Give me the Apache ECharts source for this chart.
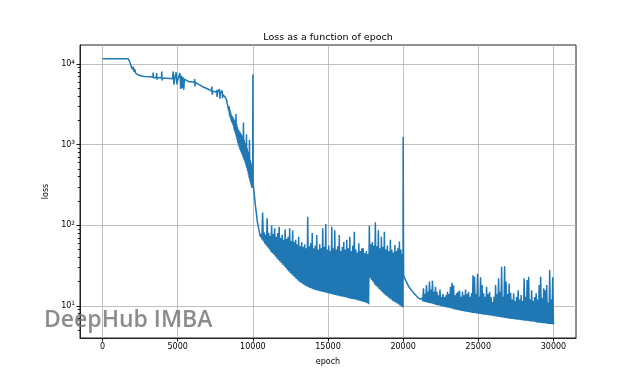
<!DOCTYPE html>
<html><head><meta charset="utf-8">
<script src="https://cdn.jsdelivr.net/npm/echarts@6/dist/echarts.min.js"></script>
<style>html,body{margin:0;padding:0;background:#fff}#c{width:640px;height:379px}</style>
</head><body><div id="c"></div>
<script>
// ---- data ----
const xTicks = [0, 5000, 10000, 15000, 20000, 25000, 30000];
const yTickExp = [1, 2, 3, 4];

// early phase (epoch / loss pairs)
const earlyEpoch = [0,1700,1800,1900,1950,2000,2050,2100,2150,2200,2250,2300,2400,2600,2800,3100,3350,3370,3390,3580,3600,3620,3640,3920,3940,3960,3980,4250,4650,4700,4750,4800,4900,4950,5000,5100,5150,5200,5250,5300,5350,5400,5450,5500,5700,5950,6100,6130,6150,6170,6400,6700,7000,7250,7270,7300,7330,7450,7580,7600,7620,7650,7750,7780,7800,7830,7900,7950,7980,8000,8100,8150,8200,8250,8300,8350];
const earlyLoss = [11600,11600,10800,9400,9900,8600,9200,8000,8600,7700,8000,7500,7300,7100,7000,6950,6900,7860,6700,6850,7730,6380,6800,6750,8090,6260,6700,6650,6550,8090,5530,6500,7900,5600,6400,6300,7730,4900,7200,5000,6900,4800,6500,6200,6080,6000,5950,6510,5270,5900,5600,5180,4900,4650,5270,4160,4600,4550,4500,4800,3900,4450,4400,4900,3700,4300,4250,4700,3800,4200,4100,3900,3780,3600,3200,2900];

// steep noisy descent: samples every 25 epochs from 8400, alternating low / high
const descStart = 8400, descStep = 25;
const descLows = [2600,2300,2150,2000,1900,1800,1700,1550,1450,1350,1250,1150,1050,980,920,860,820,780,740,700,660,630,590,550,510,470,430,390,360,330,305,290];
const descHighs = [3000,2700,2500,2350,2250,2200,2100,2000,1950,2400,1800,1650,1550,1500,1450,1400,1350,1300,1250,1880,1150,1050,1000,1350,900,820,760,1150,650,600,560,500];

// spike at 10000 and the drop after it
const dropEpoch = [9990,10000,10020,10150,10300,10450];
const dropLoss = [290,7400,330,190,110,80];

// middle phase: samples every 50 epochs from 10500, alternating low / high
const midStart = 10500, midStep = 50;
const midLows = [72,67,63,59,56,53,50,47,45,43,41,39,37,35.5,34,32.5,31,29.5,28,26.8,25.5,24.5,23.5,22.5,21.5,20.7,20,19.4,18.8,18.3,17.8,17.4,17,16.7,16.4,16.1,15.9,15.7,15.5,15.3,15.2,15.0,14.9,14.7,14.6,14.4,14.3,14.1,14,13.8,13.7,13.5,13.4,13.2,13.1,13.0,12.9,12.7,12.6,12.4,12.3,12.2,12.1,12.0,11.9,11.7,11.6,11.4,11.3,11.2,11,10.8,10.5,22,21,19.8,18.5,17.7,17,16.2,15.5,14.9,14.3,13.8,13.3,12.8,12.4,12,11.6,11.3,11,10.7,10.4,10.1,9.8];
const midHighs = [78,144,82,76,122,80,74,99,78,92,72,80,96,70,76,66,89,68,72,92,64,87,62,66,58,72,55,62,54,58,52,128,55,60,80,52,56,76,50,58,52,92,54,104,50,56,48,96,52,87,50,55,76,48,54,62,50,66,52,72,48,56,83,50,46,60,48,52,52,45,48,44,99,58,62,56,109,55,87,52,72,54,83,50,56,48,66,50,46,57,48,52,63,50,44];

// spike at 20000 and the smooth decay after it
const transEpoch = [19990,20000,20030,20150,20400,20700,20900,21100];
const transLoss = [9.6,1240,24,21,17,14.5,13.2,12.2];

// tail phase: samples every 50 epochs from 21200, alternating low / high
const tailStart = 21200, tailStep = 50;
const tailLows = [11.8,11.5,11.3,11.15,11.0,10.9,10.8,10.7,10.6,10.45,10.3,10.2,10.1,10.0,9.9,9.8,9.7,9.6,9.5,9.4,9.3,9.2,9.1,9.0,8.9,8.82,8.75,8.68,8.6,8.55,8.5,8.42,8.35,8.28,8.2,8.15,8.1,8.05,8.0,7.95,7.9,7.85,7.8,7.75,7.7,7.65,7.6,7.55,7.5,7.45,7.4,7.35,7.3,7.25,7.2,7.15,7.1,7.05,7.0,6.95,6.9,6.87,6.85,6.8,6.75,6.72,6.7,6.65,6.6,6.57,6.55,6.5,6.45,6.42,6.4,6.35,6.3,6.25,6.2,6.17,6.15,6.12,6.1,6.05,6.0,5.97,5.95,5.92,5.9];
const tailHighs = [12.5,16.5,14,18.1,15,20,16,20.5,15,17.3,15,13.5,16,13,14,12.9,13.5,15,14,17.3,19.4,18,13.5,14.3,15,15.5,13,15,13.5,16,14,15,13,14.3,24,23,14,25,13,22.6,18.1,14.3,13,17.3,14,15,12.9,11.2,13,18.1,14,22,15,30.6,13,31,20,14,19,14.6,12,14.3,11.5,12.9,15.6,12,13.6,11.5,22,13,21,23,12,15.6,11.5,12.9,14.3,12,18.1,23,12.5,16.5,15.6,18.1,11,27.9,12,22.6];

// ---- build the series ----
const pts = [];
function addPairs(ep, ls) { ep.forEach((e, i) => pts.push([e, ls[i]])); }
function addAlt(start, step, lows, highs) {
  const n = lows.length + highs.length;
  for (let j = 0; j < n; j++) {
    const v = (j % 2 === 0) ? lows[j / 2] : highs[(j - 1) / 2];
    pts.push([start + step * j, v]);
  }
}
addPairs(earlyEpoch, earlyLoss);
addAlt(descStart, descStep, descLows, descHighs);
addPairs(dropEpoch, dropLoss);
addAlt(midStart, midStep, midLows, midHighs);
addPairs(transEpoch, transLoss);
addAlt(tailStart, tailStep, tailLows, tailHighs);
const data = pts.map(p => [p[0], Math.log10(p[1])]);

const minorTicks = [];
for (let n = 0; n <= 4; n++) for (let k = 2; k <= 9; k++) {
  const v = Math.log10(k * Math.pow(10, n));
  if (v > 0.61 && v < 4.23) minorTicks.push(v);
}
const FONT = 'DejaVu Sans';
const YMIN = 0.602, YMAX = 4.236;

const chart = echarts.init(document.getElementById('c'), null, {renderer: 'canvas'});
chart.setOption({
  animation: false,
  backgroundColor: '#ffffff',
  textStyle: {fontFamily: FONT},
  title: {
    text: 'Loss as a function of epoch',
    left: 323, top: 28, textAlign: 'center',
    textStyle: {fontFamily: FONT, fontSize: 9.5, fontWeight: 'normal', color: '#000'}
  },
  grid: {left: 80, top: 45, width: 496, height: 293, show: true, borderColor: '#222', borderWidth: 1, containLabel: false},
  xAxis: {
    type: 'value', min: -1500, max: 31500,
    name: 'epoch', nameLocation: 'middle', nameGap: 20,
    nameTextStyle: {fontFamily: FONT, fontSize: 8, color: '#000'},
    axisLine: {show: true, onZero: false, lineStyle: {color: '#222', width: 1}},
    axisTick: {show: true, length: 3.5, customValues: xTicks, lineStyle: {color: '#000', width: 0.9}},
    axisLabel: {customValues: xTicks, margin: 5, fontFamily: FONT, fontSize: 8, color: '#000',
      formatter: v => String(v)},
    splitLine: {show: true, lineStyle: {color: '#b0b0b0', width: 0.8}}
  },
  yAxis: [{
    type: 'value', min: YMIN, max: YMAX,
    name: 'loss', nameLocation: 'middle', nameGap: 20,
    nameTextStyle: {fontFamily: FONT, fontSize: 8, color: '#000'},
    axisLine: {show: true, onZero: false, lineStyle: {color: '#222', width: 1}},
    axisTick: {show: true, length: 3.5, customValues: yTickExp, lineStyle: {color: '#000', width: 0.9}},
    axisLabel: {customValues: yTickExp, margin: 5, fontFamily: FONT, color: '#000',
      formatter: v => '{b|10}{s|' + Math.round(v) + '}',
      rich: {
        b: {fontFamily: FONT, fontSize: 8, lineHeight: 10, color: '#000'},
        s: {fontFamily: FONT, fontSize: 5.8, lineHeight: 10, verticalAlign: 'top', color: '#000'}
      }},
    splitLine: {show: true, lineStyle: {color: '#b0b0b0', width: 0.8}}
  }, {
    type: 'value', min: YMIN, max: YMAX, position: 'left', offset: 0,
    axisLine: {show: false, onZero: false},
    axisTick: {show: true, length: 2.2, customValues: minorTicks, lineStyle: {color: '#000', width: 0.9}},
    axisLabel: {show: false},
    splitLine: {show: false}
  }],
  series: [{
    type: 'line', data: data, xAxisIndex: 0, yAxisIndex: 0,
    showSymbol: false, symbol: 'none',
    lineStyle: {color: '#1f77b4', width: 1.5},
    itemStyle: {color: '#1f77b4'},
    clip: true, silent: true
  }],
  graphic: [{
    type: 'text', left: 44, top: 309, z: 100,
    style: {text: 'DeepHub IMBA', font: '600 23px "Open Sans"', fill: 'rgba(120,120,120,0.85)'}
  }]
});
</script></body></html>
